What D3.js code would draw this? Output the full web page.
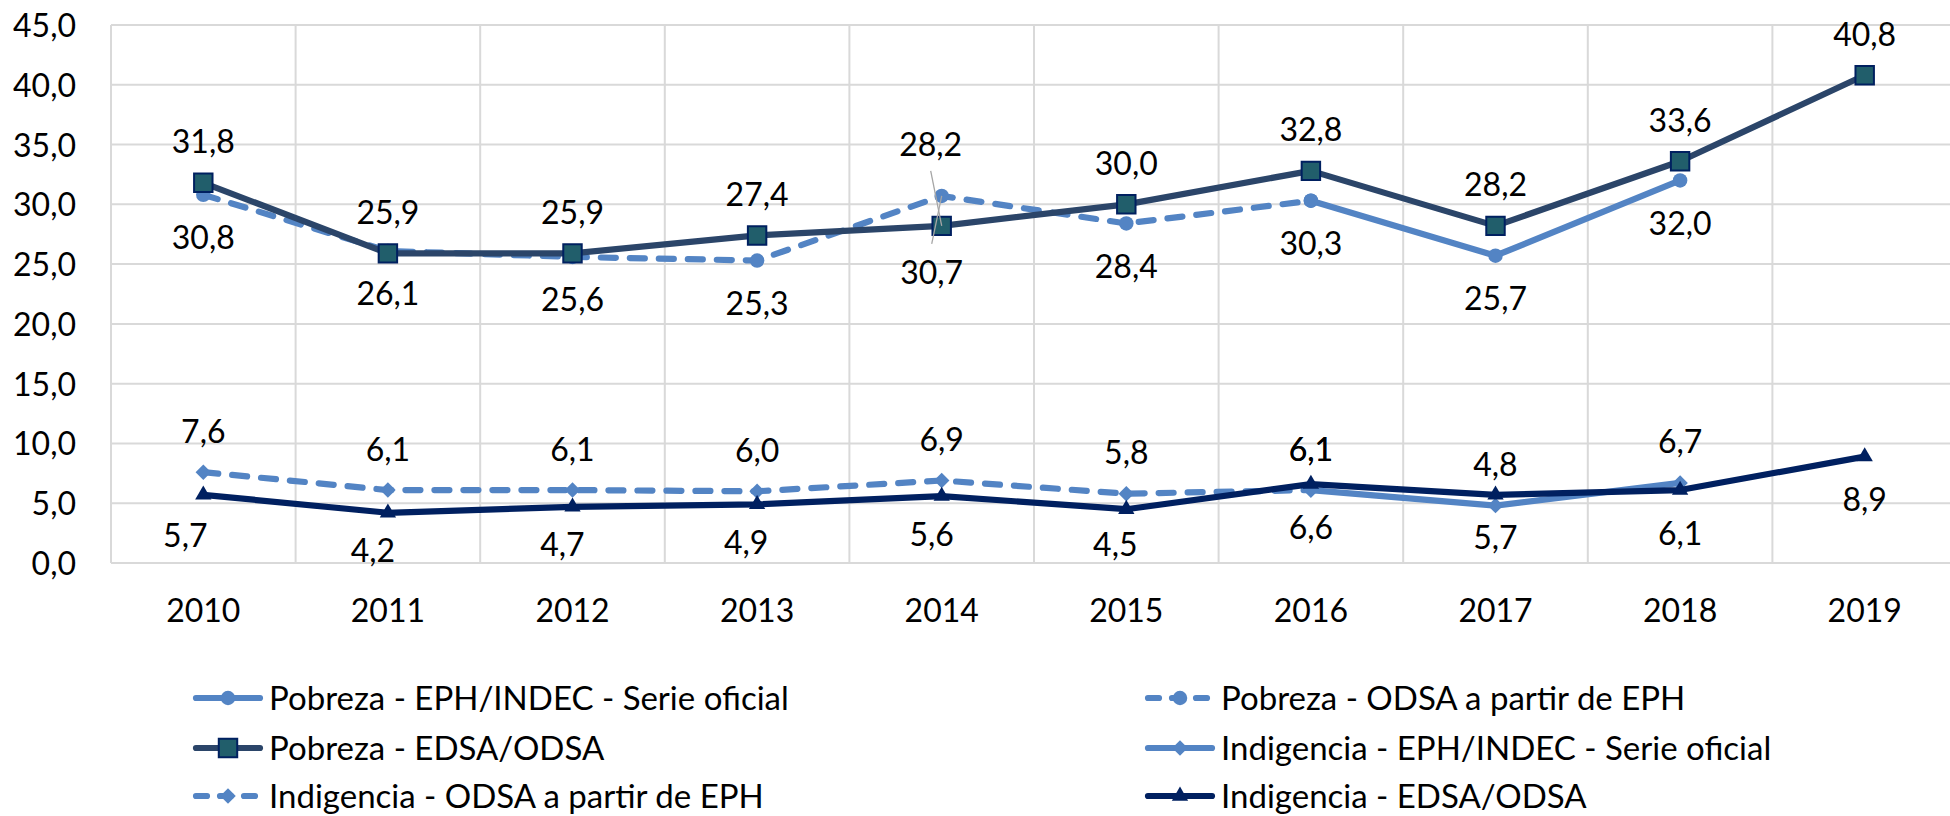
<!DOCTYPE html>
<html>
<head>
<meta charset="utf-8">
<script src="https://cdn.jsdelivr.net/npm/d3@7"></script>
<style>
  body { margin: 0; background: #fff; }
  text { font-family: Lato, "Open Sans", sans-serif; fill: #000; }
</style>
</head>
<body>
<div id="chart"></div>
<script>
// categories
var years = [2010, 2011, 2012, 2013, 2014, 2015, 2016, 2017, 2018, 2019];
var yTicks = [0, 5, 10, 15, 20, 25, 30, 35, 40, 45];

// series values (null = no data)
var pobrezaIndec   = [null, null, null, null, null, null, 30.3, 25.7, 32.0, null];
var pobrezaOdsaEph = [30.8, 26.1, 25.6, 25.3, 30.7, 28.4, 30.3, null, null, null];
var pobrezaEdsa    = [31.8, 25.9, 25.9, 27.4, 28.2, 30.0, 32.8, 28.2, 33.6, 40.8];
var indigIndec     = [null, null, null, null, null, null, 6.1, 4.8, 6.7, null];
var indigOdsaEph   = [7.6, 6.1, 6.1, 6.0, 6.9, 5.8, 6.1, null, null, null];
var indigEdsa      = [5.7, 4.2, 4.7, 4.9, 5.6, 4.5, 6.6, 5.7, 6.1, 8.9];

var seriesNames = [
  "Pobreza - EPH/INDEC - Serie oficial",
  "Pobreza - ODSA a partir de EPH",
  "Pobreza - EDSA/ODSA",
  "Indigencia - EPH/INDEC - Serie oficial",
  "Indigencia - ODSA a partir de EPH",
  "Indigencia - EDSA/ODSA"
];

var width = 1950, height = 816;
var margin = {left: 111, top: 25, bottom: 563};
var LIGHT = "#5384c4", SLATE = "#2b4569", NAVY = "#002060";

// style per series, same order as seriesNames
var styles = [
  {values: pobrezaIndec,   color: LIGHT, dash: null,    marker: "circle",   label: "below"},
  {values: pobrezaOdsaEph, color: LIGHT, dash: "15,14", marker: "circle",   label: "below"},
  {values: pobrezaEdsa,    color: SLATE, dash: null,    marker: "square",   label: "above"},
  {values: indigIndec,     color: LIGHT, dash: null,    marker: "diamond",  label: "above"},
  {values: indigOdsaEph,   color: LIGHT, dash: "15,14", marker: "diamond",  label: "above"},
  {values: indigEdsa,      color: NAVY,  dash: null,    marker: "triangle", label: "below"}
];

// hand-moved labels in the original (series index|year -> [dx, dy])
var labelNudge = {
  "2|2014": [-11, -40],
  "1|2014": [-10, 34],
  "5|2010": [-18, -2],
  "5|2011": [-15, -5],
  "5|2012": [-10, -5],
  "5|2013": [-11, -5],
  "5|2014": [-10, -5],
  "5|2015": [-11, -8]
};
// labels not shown (hidden behind the same value of another series)
var labelHidden = ["0|2016"];

var fmt = function(v) { return d3.format(".1f")(v).replace(".", ","); };

var svg = d3.select("#chart").append("svg")
  .attr("width", width)
  .attr("height", height)
  .style("display", "block");

var x = d3.scaleBand()
  .domain(years)
  .range([margin.left, margin.left + 184.6 * years.length]);

var y = d3.scaleLinear()
  .domain([0, 45])
  .range([margin.bottom, margin.top]);

// grid
var grid = svg.append("g").attr("class", "grid");
grid.selectAll("line.h")
  .data(yTicks)
  .enter().append("line")
  .attr("x1", margin.left).attr("x2", width)
  .attr("y1", function(d) { return y(d); })
  .attr("y2", function(d) { return y(d); })
  .attr("stroke", "#d9d9d9").attr("stroke-width", 2);

grid.selectAll("line.v")
  .data(years.map(function(d) { return x(d); }))
  .enter().append("line")
  .attr("x1", function(d) { return d; }).attr("x2", function(d) { return d; })
  .attr("y1", y(45)).attr("y2", y(0))
  .attr("stroke", "#d9d9d9").attr("stroke-width", 2);

// axes
var yAxis = svg.append("g")
  .attr("transform", "translate(" + margin.left + ",0)")
  .call(d3.axisLeft(y).tickValues(yTicks).tickFormat(fmt).tickSize(0).tickPadding(35));
yAxis.select(".domain").remove();
yAxis.selectAll("text").style("font-size", "32px").attr("dy", "0.36em");

var xAxis = svg.append("g")
  .attr("transform", "translate(0," + margin.bottom + ")")
  .call(d3.axisBottom(x).tickSize(0).tickPadding(0));
xAxis.select(".domain").remove();
xAxis.selectAll("text").style("font-size", "32px").attr("y", 47).attr("dy", "0.36em");

// lines
var line = d3.line()
  .defined(function(d) { return d.v != null; })
  .x(function(d) { return x(d.year) + x.bandwidth() / 2; })
  .y(function(d) { return y(d.v); });

function pts(s) {
  return years.map(function(yr, i) { return {year: yr, v: s.values[i]}; })
    .filter(function(d) { return d.v != null; });
}

var symbolFor = {
  circle:   d3.symbol().type(d3.symbolCircle).size(165),
  square:   d3.symbol().type(d3.symbolSquare).size(340),
  diamond:  d3.symbol().type(d3.symbolSquare).size(120),
  triangle: d3.symbol().type(d3.symbolTriangle).size(115)
};

styles.forEach(function(s, si) {
  var g = svg.append("g").attr("class", "series s" + si);
  g.append("path")
    .datum(pts(s))
    .attr("d", line)
    .attr("fill", "none")
    .attr("stroke", s.color)
    .attr("stroke-width", 6.2)
    .attr("stroke-linecap", s.dash ? "round" : "butt")
    .attr("stroke-linejoin", "round")
    .attr("stroke-dasharray", s.dash);

  g.selectAll("path.mk")
    .data(pts(s))
    .enter().append("path")
    .attr("class", "mk")
    .attr("d", symbolFor[s.marker])
    .attr("transform", function(d) {
      var t = "translate(" + (x(d.year) + x.bandwidth() / 2) + "," + y(d.v) + ")";
      return s.marker === "diamond" ? t + " rotate(45)" : t;
    })
    .attr("fill", s.marker === "square" ? "#215e6b" : s.color)
    .attr("stroke", s.marker === "square" ? NAVY : "none")
    .attr("stroke-width", 2);
});

// data labels
var labelPts = [];
styles.forEach(function(s, si) {
  pts(s).forEach(function(d) {
    if (labelHidden.indexOf(si + "|" + d.year) >= 0) return;
    var n = labelNudge[si + "|" + d.year] || [0, 0];
    var cx = x(d.year) + x.bandwidth() / 2;
    var off = s.label === "above" ? -41 : 43;
    labelPts.push({
      text: fmt(d.v), px: cx, py: y(d.v),
      lx: cx + n[0], ly: y(d.v) + off + n[1],
      moved: d.year === 2014 && (si === 1 || si === 2), side: s.label
    });
  });
});

// leader lines for the moved labels
svg.append("g").selectAll("line")
  .data(labelPts.filter(function(d) { return d.moved; }))
  .enter().append("line")
  .attr("x1", function(d) { return d.lx; })
  .attr("y1", function(d) { return d.ly + (d.side === "above" ? 26 : -29); })
  .attr("x2", function(d) { return d.px; })
  .attr("y2", function(d) { return d.py; })
  .attr("stroke", "#a6a6a6").attr("stroke-width", 1.3);

svg.append("g").selectAll("text")
  .data(labelPts)
  .enter().append("text")
  .attr("x", function(d) { return d.lx; })
  .attr("y", function(d) { return d.ly; })
  .attr("dy", "0.36em")
  .attr("text-anchor", "middle")
  .style("font-size", "32px")
  .text(function(d) { return d.text; });

// legend
var legend = svg.append("g").attr("class", "legend");
var legX = [193, 1145], legY = [698, 748, 796];
styles.forEach(function(s, i) {
  var lx = legX[i % 2], ly = legY[Math.floor(i / 2)];
  var g = legend.append("g").attr("transform", "translate(" + lx + "," + ly + ")");
  g.append("line")
    .attr("x1", 3).attr("x2", 67)
    .attr("stroke", s.color)
    .attr("stroke-width", 6.2)
    .attr("stroke-linecap", "round")
    .attr("stroke-dasharray", s.dash ? "11,13" : null);
  g.append("path")
    .attr("d", symbolFor[s.marker])
    .attr("transform", "translate(35,0)" + (s.marker === "diamond" ? " rotate(45)" : ""))
    .attr("fill", s.marker === "square" ? "#215e6b" : s.color)
    .attr("stroke", s.marker === "square" ? NAVY : "none")
    .attr("stroke-width", 2);
  g.append("text")
    .attr("x", 76)
    .attr("dy", "0.36em")
    .style("font-size", "33px")
    .text(seriesNames[i]);
});
</script>
</body>
</html>
